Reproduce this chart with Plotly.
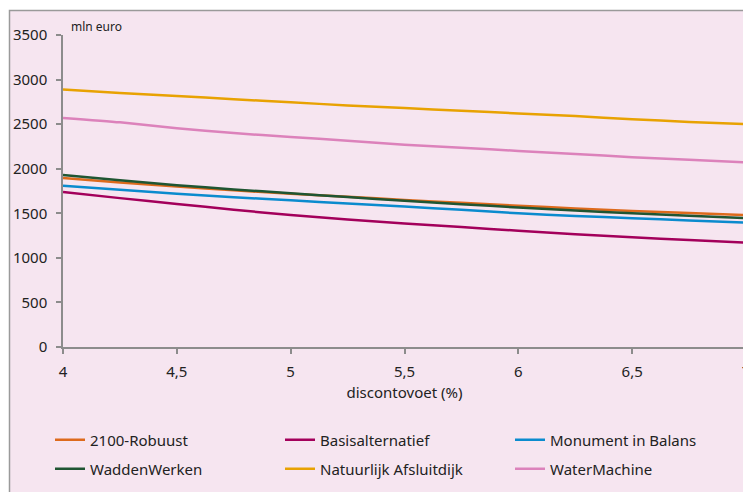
import plotly.graph_objects as go

discontovoet = [4.0, 4.25, 4.5, 4.75, 5.0, 5.25, 5.5, 5.75, 6.0, 6.25, 6.5, 6.75, 7.0]

robuust_2100 = [1895, 1845, 1800, 1758, 1720, 1685, 1650, 1617, 1585, 1555, 1525, 1502, 1480]
basisalternatief = [1740, 1670, 1605, 1540, 1480, 1430, 1385, 1345, 1305, 1265, 1230, 1200, 1170]
monument_in_balans = [1810, 1765, 1720, 1680, 1645, 1610, 1575, 1540, 1500, 1470, 1445, 1420, 1395]
waddenwerken = [1930, 1870, 1815, 1768, 1725, 1682, 1640, 1602, 1565, 1532, 1500, 1473, 1447]
natuurlijk_afsluitdijk = [2890, 2850, 2815, 2780, 2745, 2710, 2680, 2650, 2620, 2590, 2555, 2525, 2500]
watermachine = [2570, 2520, 2455, 2400, 2355, 2315, 2270, 2235, 2200, 2165, 2130, 2100, 2070]

series_names = ["2100-Robuust", "Basisalternatief", "Monument in Balans",
                "WaddenWerken", "Natuurlijk Afsluitdijk", "WaterMachine"]
series_values = [robuust_2100, basisalternatief, monument_in_balans,
                 waddenwerken, natuurlijk_afsluitdijk, watermachine]
series_colors = ["#dd6a1c", "#a3005b", "#0a8bce", "#1f5532", "#e8a202", "#dc82bb"]
legend_rows = ["legend", "legend", "legend", "legend2", "legend2", "legend2"]

x_tickvals = [4, 4.5, 5, 5.5, 6, 6.5, 7]
x_ticktext = ["4", "4,5", "5", "5,5", "6", "6,5", "7"]
y_tickvals = [0, 500, 1000, 1500, 2000, 2500, 3000, 3500]

OFF = 8  # page body margin
W, H = 751, 492
L, R, T, B = 63 - OFF, 746 - OFF, 35 - OFF, 347 - OFF
pw, ph = R - L, B - T

FONT = "Noto Sans, DejaVu Sans Condensed, sans-serif"
BG = "#f6e5f0"

fig = go.Figure()
for name, vals, col, lg in zip(series_names, series_values, series_colors, legend_rows):
    fig.add_trace(go.Scatter(x=discontovoet, y=vals, mode="lines", name=name, legend=lg,
                             line=dict(color=col, width=2.5, shape="spline", smoothing=0.6)))

# outer pink frame
fig.add_shape(type="rect", xref="paper", yref="paper",
              x0=(9.5 - OFF - L) / pw, x1=(W + 20 - L) / pw,
              y0=(B - (H + 20)) / ph, y1=(B - (10.5 - OFF)) / ph,
              fillcolor=BG, line=dict(color="#9a9a9a", width=1.5), layer="below")

fig.add_annotation(xref="paper", yref="paper", x=(69 - OFF - L) / pw, y=(B - (26 - OFF)) / ph,
                   text="mln euro", showarrow=False, xanchor="left", yanchor="middle",
                   font=dict(family=FONT, size=12, color="#222"))

legend_common = dict(orientation="h", x=(50 - OFF - L) / pw, xanchor="left", yanchor="middle",
                     entrywidth=185, entrywidthmode="pixels",
                     bgcolor="rgba(0,0,0,0)", font=dict(family=FONT, size=15, color="#222"),
                     itemwidth=30, tracegroupgap=0)

fig.update_layout(
    width=W, height=H,
    margin=dict(l=L, r=W - R, t=T, b=H - B, autoexpand=False),
    paper_bgcolor="white", plot_bgcolor=BG,
    font=dict(family=FONT, size=14, color="#222"),
    showlegend=True,
    legend=dict(legend_common, y=(B - (440 - OFF)) / ph),
    legend2=dict(legend_common, y=(B - (469 - OFF)) / ph),
    xaxis=dict(range=[4, 7], tickvals=x_tickvals, ticktext=x_ticktext, automargin=False,
               showgrid=False, zeroline=False, showline=True, linecolor="#8c8c8c", linewidth=1.5,
               ticks="outside", ticklen=5, tickcolor="#8c8c8c", tickwidth=1.5,
               tickfont=dict(size=15), ticklabelstandoff=5,
               title=dict(text="discontovoet (%)", font=dict(size=15), standoff=8)),
    yaxis=dict(range=[0, 3500], tickvals=y_tickvals, automargin=False,
               showgrid=False, zeroline=False, showline=True, linecolor="#8c8c8c", linewidth=1.5,
               ticks="outside", ticklen=5, tickcolor="#8c8c8c", tickwidth=1.5,
               tickfont=dict(size=15), ticklabelstandoff=6),
)

fig.write_html("out.html")
